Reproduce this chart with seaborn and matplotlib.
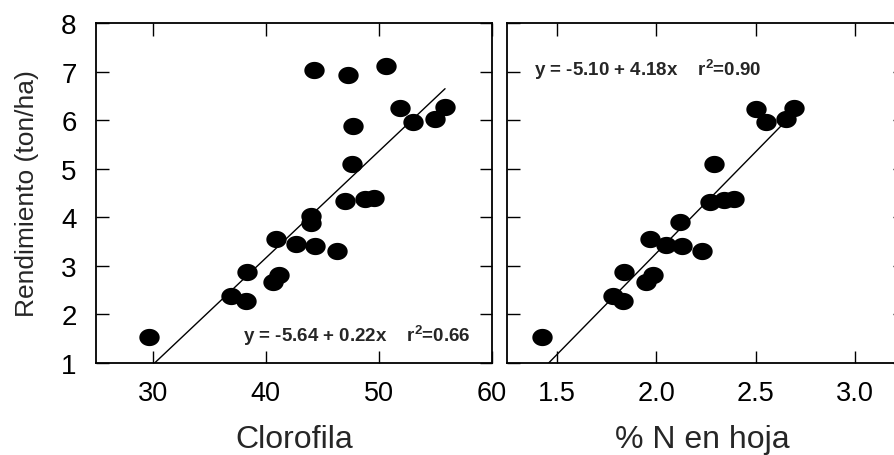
import numpy as np
import pandas as pd
import matplotlib
matplotlib.use("Agg")
import matplotlib.pyplot as plt
import seaborn as sns

# ---- data ----
clorofila = [29.7, 36.9, 38.3, 38.35, 40.6, 41.2, 40.9, 42.7, 44.0, 44.0, 44.4, 46.3,
             47.0, 48.8, 49.6, 47.65, 47.7, 44.3, 47.3, 50.6, 51.9, 53.0, 55.0, 55.85]
rend_clor = [1.54, 2.38, 2.28, 2.87, 2.67, 2.82, 3.55, 3.44, 4.02, 3.88, 3.41, 3.30,
             4.33, 4.37, 4.39, 5.10, 5.87, 7.03, 6.92, 7.12, 6.25, 5.97, 6.03, 6.27]

nitrogeno = [1.425, 1.785, 1.835, 1.84, 1.95, 1.985, 1.97, 2.05, 2.12, 2.13, 2.23,
             2.27, 2.34, 2.39, 2.29, 2.50, 2.55, 2.65, 2.69]
rend_n = [1.54, 2.38, 2.28, 2.87, 2.67, 2.82, 3.55, 3.42, 3.90, 3.41, 3.30,
          4.31, 4.36, 4.38, 5.09, 6.23, 5.97, 6.03, 6.25]

fit_clor = (-5.64, 0.22)
fit_n = (-5.10, 4.18)
label_clor = r"y = -5.64 + 0.22x    $\mathregular{r^2}$=0.66"
label_n = r"y = -5.10 + 4.18x    $\mathregular{r^2}$=0.90"

xticks_clor = [30, 40, 50, 60]
xticks_n = [1.5, 2.0, 2.5, 3.0]
xticklabels_n = ["1.5", "2.0", "2.5", "3.0"]
yticks = [1, 2, 3, 4, 5, 6, 7, 8]

# ---- style ----
sns.set_style("ticks")
plt.rcParams["font.family"] = ["Liberation Sans", "DejaVu Sans"]
plt.rcParams["mathtext.fontset"] = "custom"
plt.rcParams["mathtext.rm"] = "Liberation Sans"
plt.rcParams["mathtext.bf"] = "Liberation Sans:bold"

fig = plt.figure(figsize=(8.94, 4.56), dpi=100)
ax1 = fig.add_axes([96 / 894, 92 / 456, 396 / 894, 340 / 456])
ax2 = fig.add_axes([507 / 894, 92 / 456, 398 / 894, 340 / 456])

t = np.linspace(0, 2 * np.pi, 60)
ellipse = list(zip(1.18 * np.cos(t), np.sin(t)))

df1 = pd.DataFrame({"x": clorofila, "y": rend_clor})
df2 = pd.DataFrame({"x": nitrogeno, "y": rend_n})

for ax, df, fit in [(ax1, df1, fit_clor), (ax2, df2, fit_n)]:
    sns.scatterplot(data=df, x="x", y="y", ax=ax, color="black", marker=ellipse,
                    s=215, edgecolor="black", linewidth=0, zorder=3)
    xs = np.linspace(df["x"].min(), df["x"].max(), 50)
    line = pd.DataFrame({"x": xs, "y": fit[0] + fit[1] * xs})
    sns.lineplot(data=line, x="x", y="y", ax=ax, color="black", lw=1.0, zorder=2)
    ax.set_ylim(1, 8)
    ax.set_yticks(yticks)
    for sp in ax.spines.values():
        sp.set_visible(True)
        sp.set_linewidth(1.3)
        sp.set_color("black")
    ax.tick_params(direction="in", length=9, width=1.0, top=True, right=True,
                   colors="black", pad=12)
    ax.set_xlabel("")
    ax.set_ylabel("")

ax1.set_xlim(25, 60)
ax1.set_xticks(xticks_clor)
ax1.tick_params(axis="x", labelsize=19.5)
ax1.tick_params(axis="y", labelsize=20, pad=14)
ax1.set_ylabel("Rendimiento (ton/ha)", fontsize=19, labelpad=16)
ax1.set_xlabel("Clorofila", fontsize=23)
ax1.xaxis.set_label_coords(0.5, -0.224)
ax1.xaxis.label.set_verticalalignment("center")
ax1.text(0.659, 0.082, label_clor, transform=ax1.transAxes, ha="center", va="center",
         fontsize=13.5, fontweight="bold")

ax2.set_xlim(1.25, 3.25)
ax2.set_xticks(xticks_n)
ax2.set_xticklabels(xticklabels_n)
ax2.tick_params(axis="x", labelsize=19.5)
ax2.tick_params(axis="y", labelleft=False)
ax2.set_xlabel("% N en hoja", fontsize=23)
ax2.xaxis.set_label_coords((702 - 507) / 398, -0.224)
ax2.xaxis.label.set_verticalalignment("center")
ax2.text(0.354, 0.865, label_n, transform=ax2.transAxes, ha="center", va="center",
         fontsize=13.5, fontweight="bold")

fig.savefig("out.png", dpi=100)
